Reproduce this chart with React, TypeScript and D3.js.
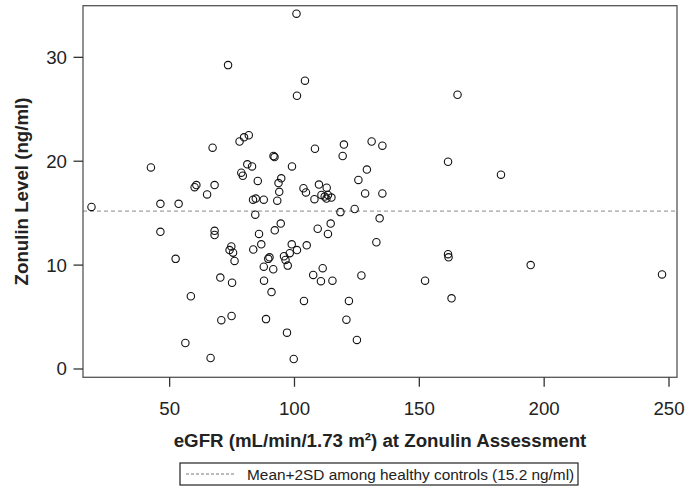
import React from "react";
import * as d3 from "d3";

const egfr = [18.7, 42.5, 46.3, 46.3, 52.4, 53.6, 56.3, 58.5, 60.0, 60.7, 65.0, 66.4, 67.2, 68.0, 68.0, 68.0, 70.3, 70.7, 73.4, 74.7, 74.0, 75.4, 76.0, 75.0, 74.8, 78.0, 79.8, 81.7, 81.1, 83.0, 78.7, 79.3, 85.3, 83.4, 84.5, 87.7, 84.3, 85.8, 86.7, 83.5, 90.0, 89.5, 87.7, 91.5, 87.8, 90.8, 88.6, 91.6, 92.0, 94.7, 93.6, 93.9, 93.1, 94.5, 92.1, 95.8, 96.4, 97.3, 97.0, 99.0, 98.9, 101.0, 98.1, 99.7, 100.8, 104.2, 101.0, 103.6, 104.6, 104.9, 103.8, 108.2, 109.8, 112.9, 108.0, 110.8, 112.1, 113.4, 114.8, 112.8, 109.3, 113.4, 114.5, 107.5, 111.3, 110.6, 115.2, 119.8, 119.3, 118.4, 121.8, 120.8, 125.0, 124.1, 125.6, 126.8, 128.3, 129.0, 130.9, 135.2, 135.2, 134.1, 132.8, 152.3, 161.5, 161.5, 161.7, 162.9, 165.3, 182.7, 194.6, 247.2];
const zonulin = [15.6, 19.4, 15.9, 13.2, 10.6, 15.9, 2.5, 7.0, 17.5, 17.7, 16.8, 1.06, 21.3, 17.7, 13.3, 12.9, 8.8, 4.7, 29.25, 11.8, 11.45, 11.2, 10.4, 8.3, 5.1, 21.9, 22.3, 22.5, 19.7, 19.5, 18.9, 18.6, 18.1, 16.3, 16.4, 16.3, 14.85, 13.0, 12.0, 11.5, 10.75, 10.6, 9.85, 9.6, 8.5, 7.4, 4.8, 20.5, 20.4, 18.35, 17.9, 17.05, 16.2, 14.0, 13.35, 10.85, 10.5, 9.95, 3.5, 19.5, 12.0, 11.45, 11.15, 0.96, 34.2, 27.75, 26.3, 17.4, 17.0, 11.9, 6.55, 21.2, 17.75, 17.45, 16.35, 16.75, 16.6, 16.75, 16.5, 16.4, 13.5, 13.0, 14.0, 9.05, 9.7, 8.45, 8.5, 21.6, 20.5, 15.1, 6.55, 4.75, 2.8, 15.4, 18.2, 9.0, 16.9, 19.2, 21.9, 21.5, 16.9, 14.5, 12.2, 8.5, 19.95, 11.05, 10.75, 6.8, 26.4, 18.7, 10.0, 9.1];
const xTicks = [50, 100, 150, 200, 250];
const yTicks = [0, 10, 20, 30];
const threshold = 15.2;
const xTitle = "eGFR (mL/min/1.73 m²) at Zonulin Assessment";
const yTitle = "Zonulin Level (ng/ml)";
const legendText = "Mean+2SD among healthy controls (15.2 ng/ml)";

export default function App() {
  const W = 686, H = 491;
  const L = 83, R = 677, T = 5.7, B = 377.3;
  const x = d3.scaleLinear().domain([15.3, 253.2]).range([L, R]);
  const y = d3.scaleLinear().domain([-0.8, 34.97]).range([B, T]);
  const font = "'Liberation Sans', Arial, sans-serif";
  const axisColor = "#555";
  return (
    <svg width={W} height={H} style={{ position: "absolute", left: 0, top: 0, background: "#fff" }} fontFamily={font}>
      <rect x={0} y={0} width={W} height={H} fill="#fff" />
      <line x1={L} x2={R} y1={y(threshold)} y2={y(threshold)} stroke="#888" strokeWidth={1} strokeDasharray="4,3" />
      {egfr.map((v, i) => (
        <circle key={i} cx={x(v)} cy={y(zonulin[i])} r={3.7} fill="none" stroke="#111" strokeWidth={1.1} />
      ))}
      <rect x={L} y={T} width={R - L} height={B - T} fill="none" stroke={axisColor} strokeWidth={1.3} />
      {xTicks.map((t) => (
        <g key={t}>
          <line x1={x(t)} x2={x(t)} y1={B} y2={B + 9.5} stroke="#333" strokeWidth={1.3} />
          <text x={x(t)} y={B + 38} textAnchor="middle" fontSize={18.7} fill="#222">{t}</text>
        </g>
      ))}
      {yTicks.map((t) => (
        <g key={t}>
          <line x1={L} x2={L - 9.5} y1={y(t)} y2={y(t)} stroke="#333" strokeWidth={1.3} />
          <text x={L - 16} y={y(t) + 6.5} textAnchor="end" fontSize={18.7} fill="#222">{t}</text>
        </g>
      ))}
      <text x={(L + R) / 2} y={447} textAnchor="middle" fontSize={18.7} fontWeight="bold" fill="#222">{xTitle}</text>
      <text transform={`translate(28, ${(T + B) / 2}) rotate(-90)`} textAnchor="middle" fontSize={18.7} fontWeight="bold" fill="#222">{yTitle}</text>
      <g>
        <rect x={180} y={463} width={398} height={22} fill="#fff" stroke="#222" strokeWidth={1.2} />
        <line x1={186} x2={236} y1={474} y2={474} stroke="#777" strokeWidth={1} strokeDasharray="3,2" />
        <text x={247} y={479.5} fontSize={15.4} fill="#222">{legendText}</text>
      </g>
    </svg>
  );
}
